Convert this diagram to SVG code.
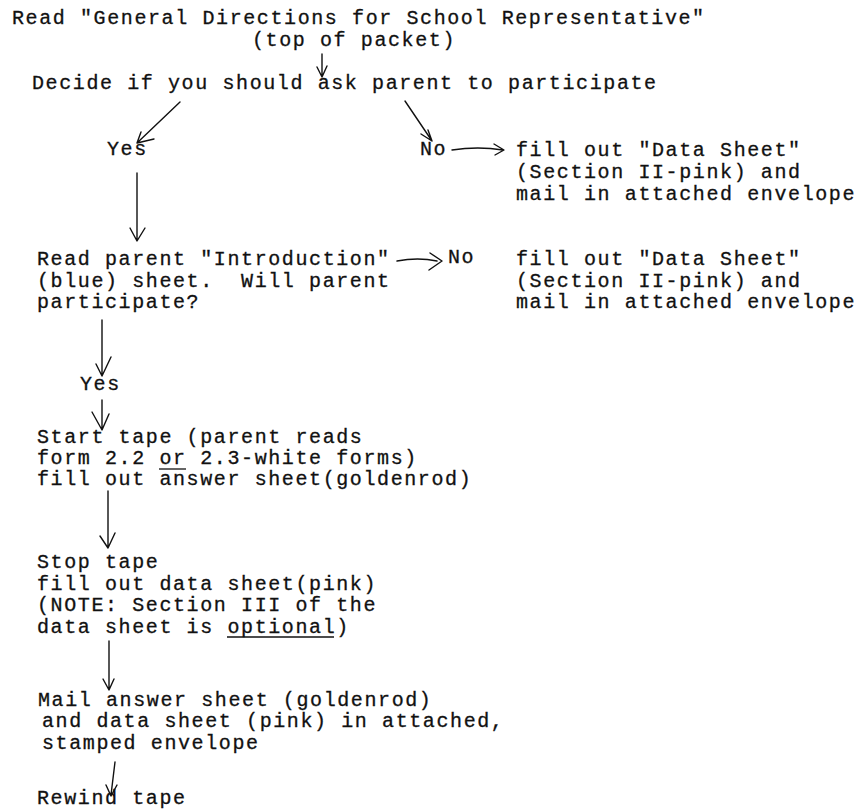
<svg xmlns="http://www.w3.org/2000/svg" width="864" height="811" viewBox="0 0 864 811">
<style>
text{font-family:"Liberation Mono","DejaVu Sans Mono",monospace;font-size:20px;letter-spacing:1.6px;fill:#111;stroke:#111;stroke-width:0.3;white-space:pre}
.c{fill:none;stroke:#111;stroke-width:1.4;stroke-linecap:round;stroke-linejoin:round}
.u{stroke:#111;stroke-width:1.3}
</style>
<rect width="864" height="811" fill="#fff"/>
<g id="n1"><text x="12" y="24">Read "General Directions for School Representative"</text><text x="252" y="46">(top of packet)</text></g>
<g id="n2"><text x="32" y="89">Decide if you should ask parent to participate</text></g>
<g id="yes1"><text x="107" y="155">Yes</text></g>
<g id="no1"><text x="420" y="155">No</text></g>
<g id="r1"><text x="516" y="156">fill out "Data Sheet"</text><text x="516" y="178">(Section II-pink) and</text><text x="516" y="200">mail in attached envelope</text></g>
<g id="n3"><text x="37" y="265">Read parent "Introduction"</text><text x="37" y="287">(blue) sheet.  Will parent</text><text x="37" y="308">participate?</text></g>
<g id="no2"><text x="448" y="263">No</text></g>
<g id="r2"><text x="516" y="265">fill out "Data Sheet"</text><text x="516" y="287">(Section II-pink) and</text><text x="516" y="308">mail in attached envelope</text></g>
<g id="yes2"><text x="80" y="390">Yes</text></g>
<g id="n4"><text x="37" y="443">Start tape (parent reads</text><text x="37" y="464">form 2.2 or 2.3-white forms)</text><text x="37" y="485">fill out answer sheet(goldenrod)</text><line class="u" x1="159" y1="469" x2="186" y2="469"/></g>
<g id="n5"><text x="37" y="568">Stop tape</text><text x="37" y="590">fill out data sheet(pink)</text><text x="37" y="611">(NOTE: Section III of the</text><text x="37" y="633">data sheet is optional)</text><line class="u" x1="227" y1="637" x2="334" y2="637"/></g>
<g id="n6"><text x="38" y="706">Mail answer sheet (goldenrod)</text><text x="42" y="727">and data sheet (pink) in attached,</text><text x="42" y="749">stamped envelope</text></g>
<g id="n7"><text x="37" y="804">Rewind tape</text></g>
<g id="connectors">
<path class="c" d="M322 54 L322 76 M317 67 L322 77 L327 66"/>
<path class="c" d="M180 102 L137 143 M141 132 L137 143 L154 139"/>
<path class="c" d="M405 101 L432 141 M428 130 L432 141 M421 134 L432 141"/>
<path class="c" d="M452 150 Q478 146 503 150 M494 144 L504 150 L495 155"/>
<path class="c" d="M137 173 L137 240 M130 228 L137 241 L145 228"/>
<path class="c" d="M397 261 Q418 257 437 261 M430 253 L442 261 L429 270"/>
<path class="c" d="M102 320 L102 375 M96 364 L102 376 L111 357"/>
<path class="c" d="M102 400 L102 429 M92 412 L102 430 L109 414"/>
<path class="c" d="M108 491 L108 547 M100 536 L108 548 L115 533"/>
<path class="c" d="M109 641 L109 689 M103 679 L109 690 L114 679"/>
<path class="c" d="M115 762 L111 795 M106 785 L111 796 L117 785"/>
</g>
</svg>
